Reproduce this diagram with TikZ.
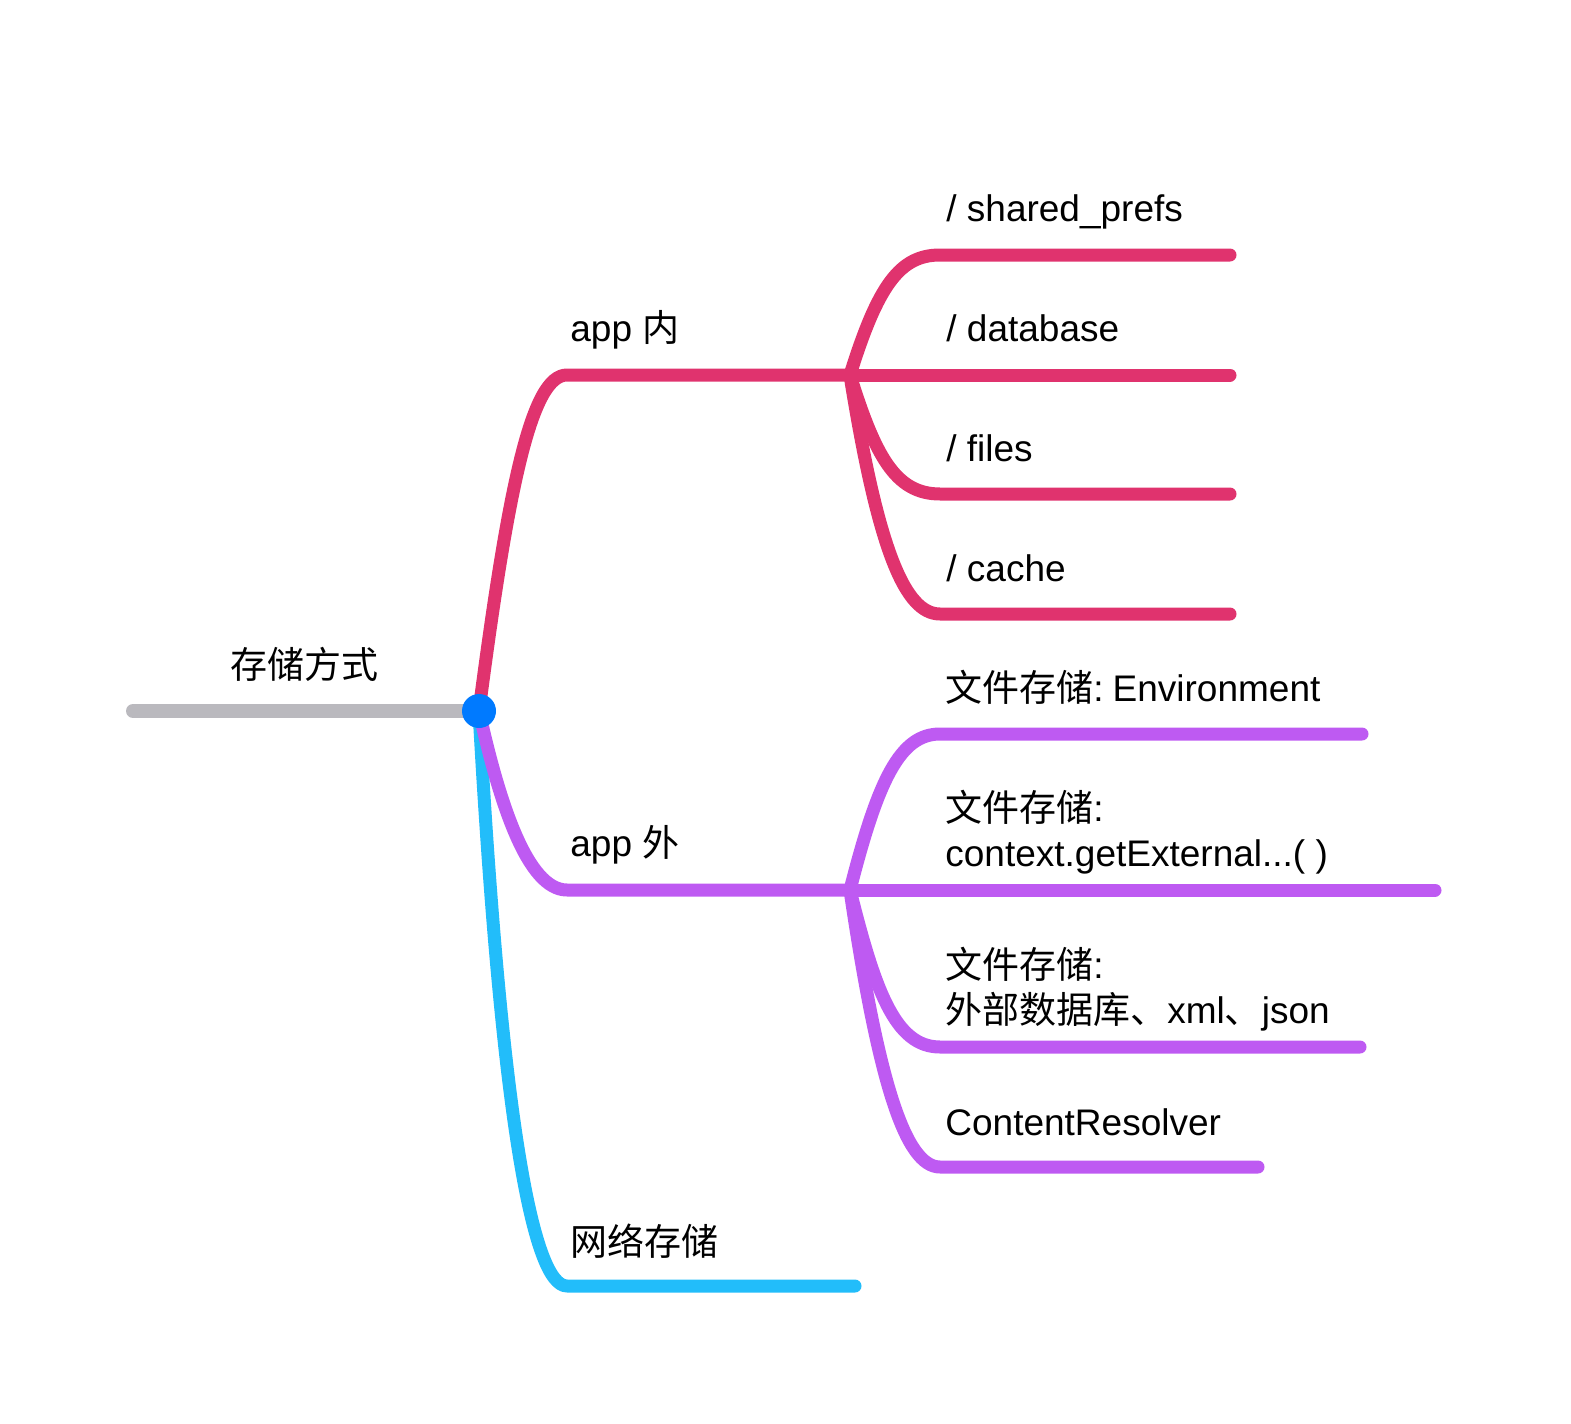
\documentclass[tikz,border=0pt]{standalone}
\usepackage{fontspec}
\setmainfont{Liberation Sans}
\newfontfamily\cjk{Noto Sans CJK SC}
\definecolor{cred}{RGB}{224,51,110}
\definecolor{cpur}{RGB}{190,90,242}
\definecolor{ccyan}{RGB}{34,189,250}
\definecolor{cgray}{RGB}{186,185,190}
\definecolor{cblue}{RGB}{0,122,255}
\begin{document}
\begin{tikzpicture}[x=0.5pt,y=-0.5pt,line cap=round,line join=round,
  branch/.style={line width=6.5pt},
  lbl/.style={inner sep=0pt,anchor=base west,font=\fontsize{18.5}{22}\selectfont}]
\useasboundingbox (0,0) rectangle (1571,1424);
% coordinates
\coordinate (root) at (479,711);
\coordinate (rootL) at (133,711);
\coordinate (inA) at (567,375);
\coordinate (inJ) at (850,375);
\coordinate (outA) at (567,890);
\coordinate (outJ) at (850,890);
\coordinate (netA) at (567,1286);
\coordinate (netE) at (855,1286);
\coordinate (s1a) at (940,255); \coordinate (s1e) at (1230,255);
\coordinate (s2e) at (1230,375);
\coordinate (s3a) at (940,494); \coordinate (s3e) at (1230,494);
\coordinate (s4a) at (940,614); \coordinate (s4e) at (1230,614);
\coordinate (p1a) at (940,734); \coordinate (p1e) at (1362,734);
\coordinate (p2e) at (1435,890);
\coordinate (p3a) at (940,1047); \coordinate (p3e) at (1360,1047);
\coordinate (p4a) at (940,1167); \coordinate (p4e) at (1258,1167);
% cyan branch
\draw[branch,ccyan] (root) .. controls +(22,400) and +(-35,0) .. (netA) -- (netE);
% purple branch
\draw[branch,cpur] (root) .. controls +(20,90) and +(-40,0) .. (outA) -- (outJ);
\draw[branch,cpur] (outJ) .. controls +(28,-110) and +(-40,0) .. (p1a) -- (p1e);
\draw[branch,cpur] (outJ) -- (p2e);
\draw[branch,cpur] (outJ) .. controls +(25,100) and +(-45,0) .. (p3a) -- (p3e);
\draw[branch,cpur] (outJ) .. controls +(28,190) and +(-35,0) .. (p4a) -- (p4e);
% red branch
\draw[branch,cred] (root) .. controls +(30,-230) and +(-35,0) .. (inA) -- (inJ);
\draw[branch,cred] (inJ) .. controls +(28,-90) and +(-40,0) .. (s1a) -- (s1e);
\draw[branch,cred] (inJ) -- (s2e);
\draw[branch,cred] (inJ) .. controls +(25,80) and +(-45,0) .. (s3a) -- (s3e);
\draw[branch,cred] (inJ) .. controls +(28,175) and +(-35,0) .. (s4a) -- (s4e);
% root line
\draw[line width=7pt,cgray] (rootL) -- (root);
\fill[cblue] (root) circle[radius=17];
% labels
\node[lbl] (lroot) at (230,678) {\cjk 存储方式};
\node[lbl] (lin) at (570,341) {app {\cjk 内}};
\node[lbl] (lout) at (570,856) {app {\cjk 外}};
\node[lbl] (lnet) at (570,1255) {\cjk 网络存储};
\node[lbl] (l1) at (946,221) {/ shared\_prefs};
\node[lbl] (l2) at (946,341) {/ database};
\node[lbl] (l3) at (946,461) {/ files};
\node[lbl] (l4) at (946,581) {/ cache};
\node[lbl] (m1) at (945,701) {{\cjk 文件存储}:\hspace{4.5pt}Environment};
\node[lbl] (m2a) at (945,821) {{\cjk 文件存储}:};
\node[lbl] (m2b) at (945,866) {context.getExternal...( )};
\node[lbl] (m3a) at (945,978) {{\cjk 文件存储}:};
\node[lbl] (m3b) at (945,1023) {{\cjk 外部数据库、}xml{\cjk 、}json};
\node[lbl] (m4) at (945,1135) {ContentResolver};
\end{tikzpicture}
\end{document}
